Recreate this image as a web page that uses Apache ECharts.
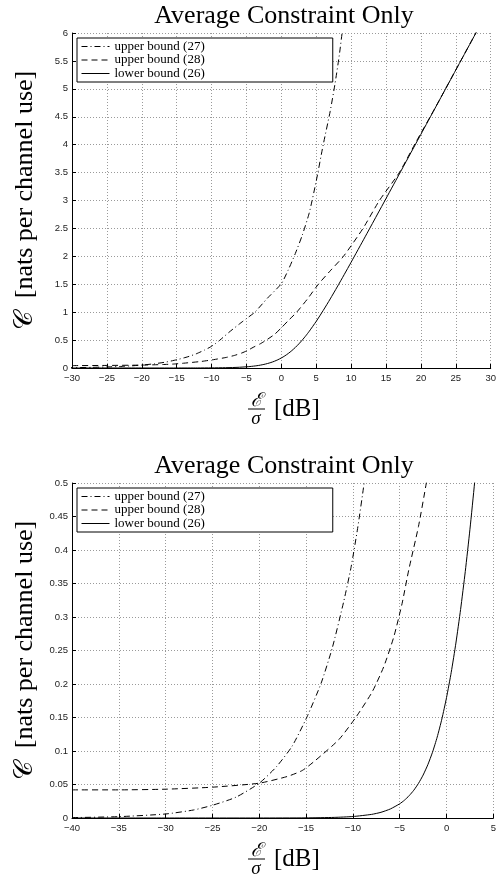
<!DOCTYPE html>
<html>
<head>
<meta charset="utf-8">
<script src="https://cdn.jsdelivr.net/npm/echarts@6/dist/echarts.min.js"></script>
<style>
html,body{margin:0;padding:0;background:#fff;}
#chart{width:499px;height:879px;}
</style>
</head>
<body>
<div id="chart"></div>
<script>
// ---- data (x = E/sigma in dB, y = C in nats per channel use) ----
var titleText = 'Average Constraint Only';
var seriesNames = ['upper bound (27)', 'upper bound (28)', 'lower bound (26)'];

var upper27 = [
  [-40, 0.0006], [-35, 0.002], [-30, 0.006], [-27, 0.012], [-25, 0.019], [-22.5, 0.031],
  [-20, 0.052], [-18.2, 0.076], [-16.5, 0.107], [-14.9, 0.151], [-13.4, 0.201], [-12.2, 0.254],
  [-11, 0.322], [-10.2, 0.374], [-9.5, 0.432], [-8.8, 0.500], [-7.5, 0.640], [-6, 0.790],
  [-5, 0.885], [-3.8, 1.000], [-2, 1.250], [0, 1.510], [1, 1.760], [2, 2.050],
  [3, 2.380], [4, 2.780], [5, 3.350], [6, 4.000], [7, 4.600], [7.7, 5.100],
  [8.3, 5.600], [8.8, 6.100], [9.2, 6.500]
];

var upper28 = [
  [-40, 0.042], [-35, 0.042], [-30, 0.043], [-25, 0.046], [-20, 0.052], [-17, 0.062],
  [-15.4, 0.071], [-14, 0.086], [-11.5, 0.117], [-9.7, 0.150], [-7.95, 0.188], [-6.7, 0.226],
  [-5.64, 0.270], [-4.75, 0.320], [-4.04, 0.370], [-3, 0.435], [-2.16, 0.500], [-1, 0.600],
  [0, 0.720], [1, 0.850], [2.2, 1.000], [3.7, 1.230], [5.3, 1.500], [7, 1.740],
  [8.9, 2.000], [11.7, 2.500], [14.05, 3.000], [16.9, 3.500], [19.3, 4.050], [22, 4.650],
  [25, 5.340], [28, 6.030]
];

var lower26 = [
  [-40, 0.0000], [-30, 0.0000], [-20, 0.00002], [-15, 0.0002], [-12, 0.0009], [-10, 0.0022],
  [-8, 0.0054], [-7, 0.0085], [-6, 0.0135], [-5, 0.0212], [-4.5, 0.0265], [-4, 0.0332],
  [-3.5, 0.0414], [-3, 0.0516], [-2.5, 0.0641], [-2, 0.0795], [-1.5, 0.0981], [-1, 0.1207],
  [-0.5, 0.1477], [0, 0.1798], [0.5, 0.2174], [1, 0.2611], [1.5, 0.3112], [2, 0.3678],
  [2.5, 0.4310], [3, 0.5008], [3.5, 0.5766], [4, 0.6582], [5, 0.8363], [6, 1.0307],
  [7, 1.2369], [8, 1.4513], [9, 1.6714], [10, 1.8951], [12, 2.3488], [15, 3.0361],
  [20, 4.1864], [25, 5.3376], [28, 6.0283]
];

// axis ranges / ticks
var topX = {min: -30, max: 30, interval: 5};
var topY = {min: 0, max: 6, interval: 0.5};
var botX = {min: -40, max: 5, interval: 5};
var botY = {min: 0, max: 0.5, interval: 0.05};

// ---- chart ----
var chart = echarts.init(document.getElementById('chart'), null, {renderer: 'canvas'});
var serif = '"Liberation Serif", "Times New Roman", serif';
var sans = '"Liberation Sans", Arial, sans-serif';
var lineStyles = [
  {color: '#000', width: 1, type: [6, 3, 1, 3]},
  {color: '#000', width: 1, type: [6, 4]},
  {color: '#000', width: 1, type: 'solid'}
];
var seriesData = [upper27, upper28, lower26];

function xAxisCfg(r, idx) {
  return {
    type: 'value', gridIndex: idx, min: r.min, max: r.max, interval: r.interval,
    axisLine: {show: true, onZero: false, lineStyle: {color: '#000', width: 1}},
    axisTick: {show: true, inside: true, length: 4, lineStyle: {color: '#000'}},
    axisLabel: {fontFamily: sans, fontSize: 9.5, color: '#222', margin: 5,
      formatter: function (v) { return String(v).replace('-', '\u2212'); }},
    splitLine: {show: true, lineStyle: {color: '#9a9a9a', width: 1, type: [1, 2]}}
  };
}
function yAxisCfg(r, idx) {
  return {
    type: 'value', gridIndex: idx, min: r.min, max: r.max, interval: r.interval,
    name: '\uD835\uDC9E  [nats per channel use]',
    nameLocation: 'middle', nameGap: 34,
    nameTextStyle: {fontFamily: serif, fontSize: 26, color: '#000'},
    axisLine: {show: true, onZero: false, lineStyle: {color: '#000', width: 1}},
    axisTick: {show: true, inside: true, length: 4, lineStyle: {color: '#000'}},
    axisLabel: {fontFamily: sans, fontSize: 9.5, color: '#222', margin: 4},
    splitLine: {show: true, lineStyle: {color: '#9a9a9a', width: 1, type: [1, 2]}}
  };
}
function legendCfg(top) {
  return {
    show: true, orient: 'vertical', left: 77, top: top,
    padding: [2, 128, 2, 4], itemGap: 0.5, itemWidth: 28, itemHeight: 12,
    backgroundColor: '#fff', borderColor: '#000', borderWidth: 1, borderRadius: 0,
    selectedMode: false,
    itemStyle: {opacity: 0},
    lineStyle: {width: 1},
    textStyle: {fontFamily: serif, fontSize: 13, color: '#000'},
    data: seriesNames.slice()
  };
}

var series = [];
[0, 1].forEach(function (g) {
  seriesData.forEach(function (d, i) {
    series.push({
      type: 'line', name: seriesNames[i], xAxisIndex: g, yAxisIndex: g,
      data: d, showSymbol: false, symbol: 'none', smooth: 0.2, clip: true,
      lineStyle: lineStyles[i], itemStyle: {color: '#000'}, z: 3, silent: true, animation: false
    });
  });
});

function extras(dy) {
  return [
    {type: 'text', x: 256, y: 401 + dy, style: {text: '\u2130', fontFamily: serif, fontStyle: 'italic', fontSize: 19, fill: '#000', align: 'center', verticalAlign: 'middle'}},
    {type: 'line', shape: {x1: 248, y1: 409 + dy, x2: 265, y2: 409 + dy}, style: {stroke: '#000', lineWidth: 1}},
    {type: 'text', x: 256, y: 419 + dy, style: {text: '\u03C3', fontFamily: serif, fontStyle: 'italic', fontSize: 19, fill: '#000', align: 'center', verticalAlign: 'middle'}},
    {type: 'text', x: 274, y: 409 + dy, style: {text: '[dB]', fontFamily: serif, fontSize: 25, fill: '#000', align: 'left', verticalAlign: 'middle'}},
    {type: 'text', x: 284, y: 16 + dy, style: {text: titleText, fontFamily: serif, fontSize: 26, fill: '#000', align: 'center', verticalAlign: 'middle'}}
  ];
}

chart.setOption({
  animation: false,
  backgroundColor: '#fff',
  grid: [
    {left: 72, top: 33, width: 424, height: 335, containLabel: false},
    {left: 72, top: 483, width: 423, height: 335, containLabel: false}
  ],
  xAxis: [xAxisCfg(topX, 0), xAxisCfg(botX, 1)],
  yAxis: [yAxisCfg(topY, 0), yAxisCfg(botY, 1)],
  legend: [legendCfg(38), legendCfg(488)],
  series: series,
  graphic: extras(0).concat(extras(450))
});
</script>
</body>
</html>
